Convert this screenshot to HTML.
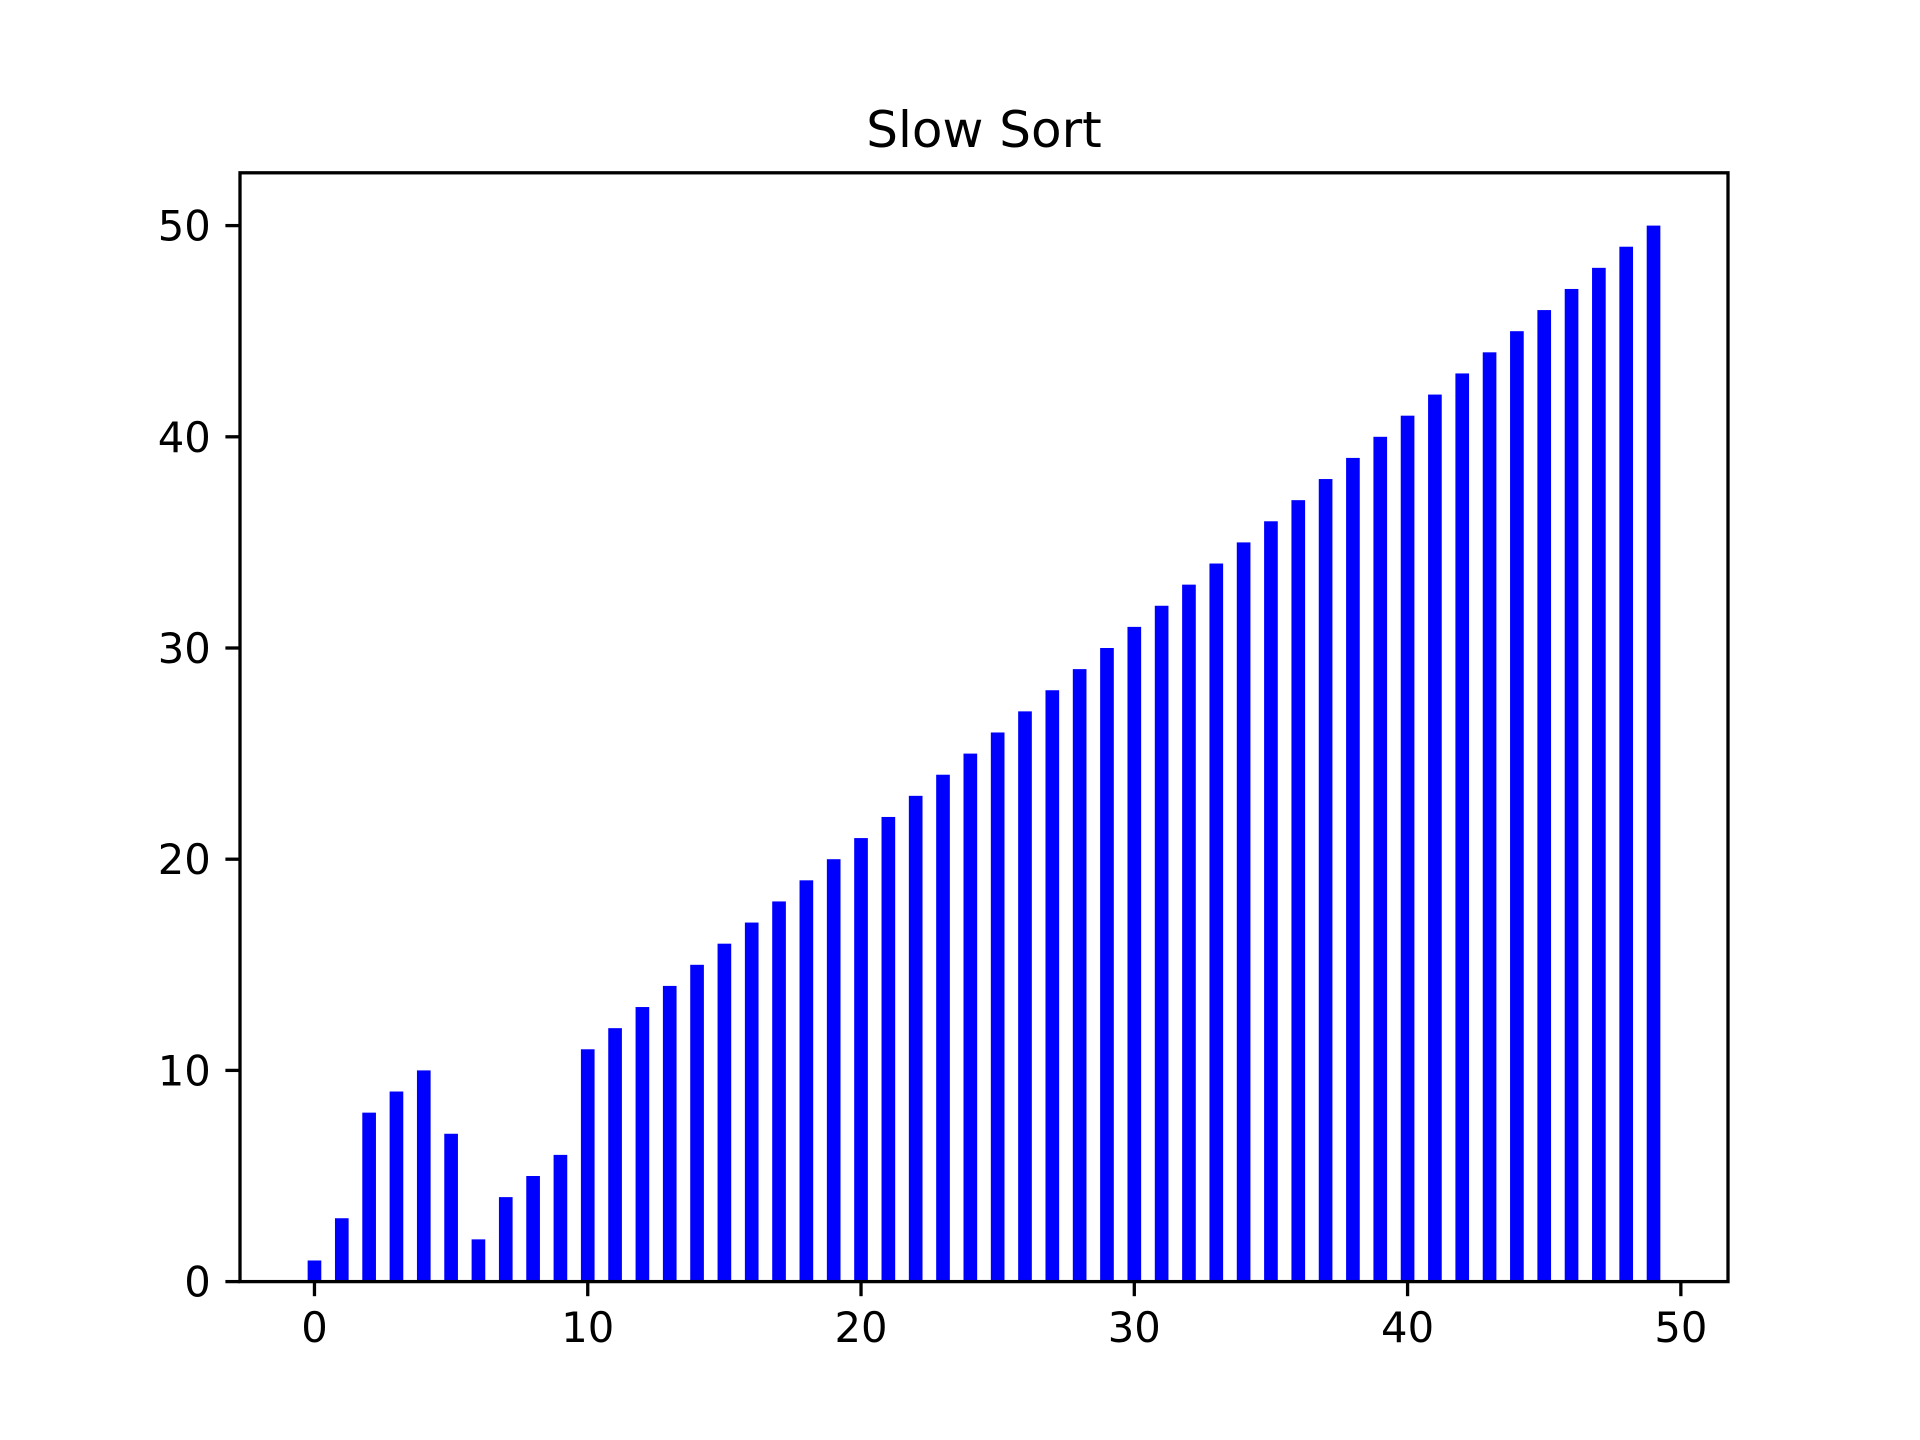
<!DOCTYPE html>
<html><head><meta charset="utf-8"><style>
html,body{margin:0;padding:0;background:#fff;width:1920px;height:1440px;overflow:hidden}
svg text{font-family:"DejaVu Sans","Liberation Sans",sans-serif;fill:#000}
</style></head><body>
<svg id="chart" width="1920" height="1440" viewBox="0 0 1920 1440" xmlns="http://www.w3.org/2000/svg">
<rect width="1920" height="1440" fill="#fff"/>
<text x="984" y="147" font-size="50" text-anchor="middle">Slow Sort</text>
<g id="bars"></g>
<g id="ticks"></g>
<rect x="240" y="172.8" width="1488" height="1108.8" fill="none" stroke="#000" stroke-width="3.3"/>
</svg>
<script>
const categories = Array.from({length:50},(_, i)=>i);
const values = [1,3,8,9,10,7,2,4,5,6,11,12,13,14,15,16,17,18,19,20,21,22,23,24,25,26,27,28,29,30,31,32,33,34,35,36,37,38,39,40,41,42,43,44,45,46,47,48,49,50];
const xTicks = [0,10,20,30,40,50];
const yTicks = [0,10,20,30,40,50];

const L=240,R=1728,T=172.8,B=1281.6;
const xmin=-2.725,xmax=51.725,ymin=0,ymax=52.5;
const xs=v=>L+(v-xmin)/(xmax-xmin)*(R-L);
const ys=v=>B-(v-ymin)/(ymax-ymin)*(B-T);
const NS="http://www.w3.org/2000/svg";
const bars=document.getElementById('bars');
const ticks=document.getElementById('ticks');
categories.forEach((c,i)=>{
  const r=document.createElementNS(NS,'rect');
  
  
  const x0=xs(c-0.25),x1=xs(c+0.25);
  r.setAttribute('x',x0);r.setAttribute('width',x1-x0);
  r.setAttribute('y',ys(values[i]));r.setAttribute('height',ys(0)-ys(values[i]));
  r.setAttribute('fill','#0000ff');
  bars.appendChild(r);
});
xTicks.forEach(t=>{
  const x=xs(t);
  const l=document.createElementNS(NS,'line');
  
  
  l.setAttribute('x1',x);l.setAttribute('x2',x);l.setAttribute('y1',B);l.setAttribute('y2',B+14.6);
  l.setAttribute('stroke','#000');l.setAttribute('stroke-width','3.3');
  ticks.appendChild(l);
  const tx=document.createElementNS(NS,'text');
  
  
  tx.setAttribute('x',x);tx.setAttribute('y',B+29.2+31);
  tx.setAttribute('font-size','41.7');tx.setAttribute('text-anchor','middle');
  tx.textContent=t;
  ticks.appendChild(tx);
});
yTicks.forEach(t=>{
  const y=ys(t);
  const l=document.createElementNS(NS,'line');
  
  
  l.setAttribute('x1',L-14.6);l.setAttribute('x2',L);l.setAttribute('y1',y);l.setAttribute('y2',y);
  l.setAttribute('stroke','#000');l.setAttribute('stroke-width','3.3');
  ticks.appendChild(l);
  const tx=document.createElementNS(NS,'text');
  
  
  tx.setAttribute('x',L-29.2);tx.setAttribute('y',y+15);
  tx.setAttribute('font-size','41.7');tx.setAttribute('text-anchor','end');
  tx.textContent=t;
  ticks.appendChild(tx);
});
</script>
</body></html>
